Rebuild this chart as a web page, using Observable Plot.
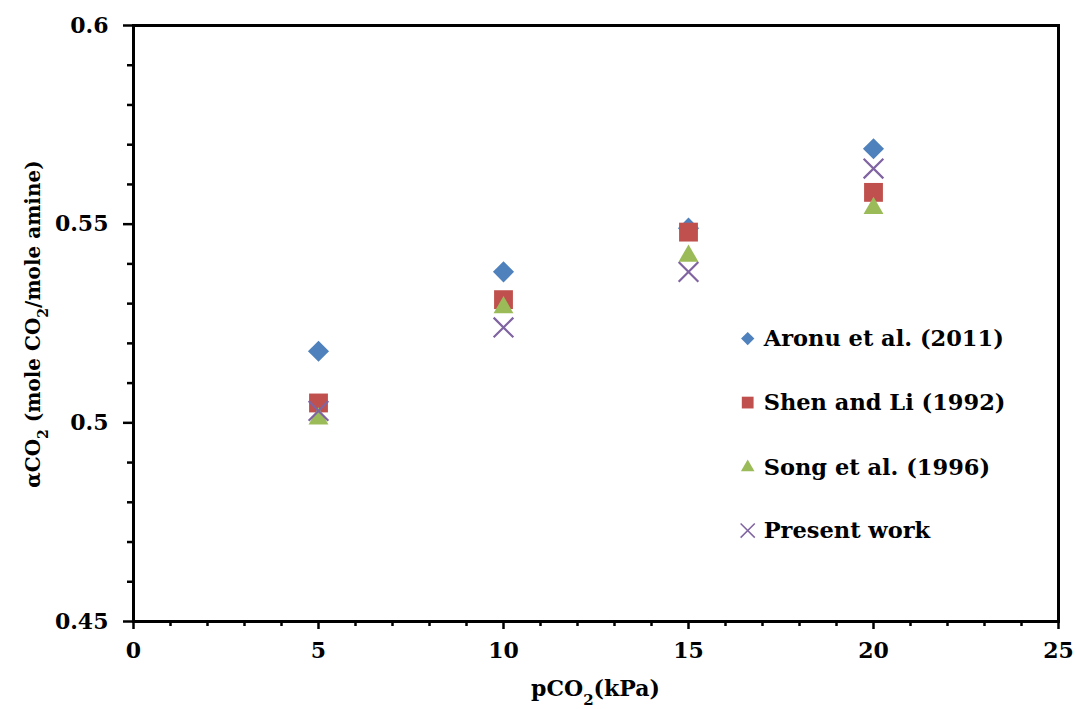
<!DOCTYPE html>
<html>
<head>
<meta charset="utf-8">
<script src="https://cdn.jsdelivr.net/npm/d3@7"></script>
<script src="https://cdn.jsdelivr.net/npm/@observablehq/plot@0.6"></script>
<style>
  body { margin: 0; background: #fff; }
</style>
</head>
<body>
<div id="chart"></div>
<script>
// ---- data ----
const pressures = [5, 10, 15, 20];
const aronu   = [0.518, 0.538, 0.549, 0.569];
const shenLi  = [0.505, 0.531, 0.548, 0.558];
const song    = [0.501, 0.529, 0.542, 0.554];
const present = [0.503, 0.524, 0.538, 0.564];
const seriesNames = ["Aronu et al. (2011)", "Shen and Li (1992)", "Song et al. (1996)", "Present work"];
const seriesValues = [aronu, shenLi, song, present];

const xMajorTicks = [0, 5, 10, 15, 20, 25];
const xMinorTicks = [1, 2, 3, 4, 6, 7, 8, 9, 11, 12, 13, 14, 16, 17, 18, 19, 21, 22, 23, 24];
const yMajorTicks = [0.45, 0.5, 0.55, 0.6];
const yTickLabels = ["0.45", "0.5", "0.55", "0.6"];
const yMinorTicks = [0.46, 0.47, 0.48, 0.49, 0.51, 0.52, 0.53, 0.54, 0.56, 0.57, 0.58, 0.59];

// ---- styles ----
const styles = [
  {symbol: "diamond2", color: "#4F81BD", r: 9.5, lr: 6,   filled: true},
  {symbol: "square2",  color: "#C0504D", r: 12,  lr: 7.5, filled: true},
  {symbol: "triangle2",color: "#9BBB59", r: 9.5, lr: 6.5, filled: true},
  {symbol: "times",    color: "#8064A2", r: 9,   lr: 6.5, filled: false}
];
const legendX = 16.6;
const legendY = [0.5212, 0.5051, 0.4888, 0.4729];
const FONT = "'DejaVu Serif', 'Liberation Serif', serif";

const rows = seriesValues.map(vals => pressures.map((p, i) => ({x: p, y: vals[i]})));
const legendRows = seriesNames.map((name, i) => ({name, i, x: legendX, y: legendY[i]}));

const marks = [
  Plot.axisX({ticks: xMinorTicks, tickSize: 5, strokeWidth: 2.5, fill: "none", label: null}),
  Plot.axisX({ticks: xMajorTicks, tickSize: 8, strokeWidth: 2.5, tickPadding: 13,
              fontSize: 22, fontWeight: "bold", fontFamily: FONT,
              tickFormat: d => String(d), label: null}),
  Plot.axisY({ticks: yMinorTicks, tickSize: 6, strokeWidth: 2.5, fill: "none", label: null}),
  Plot.axisY({ticks: yMajorTicks, tickSize: 10, strokeWidth: 2.5, tickPadding: 15,
              fontSize: 22, fontWeight: "bold", fontFamily: FONT,
              tickFormat: d => yTickLabels[yMajorTicks.indexOf(d)], label: null}),
  Plot.frame({strokeWidth: 3, stroke: "black"})
];

styles.forEach((s, k) => {
  marks.push(Plot.dot(rows[k], {
    x: "x", y: "y", symbol: s.symbol, r: s.r,
    fill: s.filled ? s.color : "none",
    stroke: s.filled ? null : s.color,
    strokeWidth: s.filled ? null : 2.2
  }));
  marks.push(Plot.dot(legendRows.filter(d => d.i === k), {
    x: "x", y: "y", symbol: s.symbol, r: s.lr,
    fill: s.filled ? s.color : "none",
    stroke: s.filled ? null : s.color,
    strokeWidth: s.filled ? null : 1.5
  }));
});
marks.push(Plot.text(legendRows, {
  x: "x", y: "y", text: "name", dx: 16, textAnchor: "start",
  fontSize: 22.5, fontWeight: "bold", fontFamily: FONT, fill: "black"
}));

const svg = Plot.plot({
  width: 1076,
  height: 709,
  marginLeft: 133,
  marginRight: 18,
  marginTop: 25,
  marginBottom: 88,
  style: `font-family: ${FONT}; font-size: 22px; font-weight: bold; background: white; color: black; overflow: visible;`,
  x: {domain: [0, 25]},
  y: {domain: [0.45, 0.6]},
  marks
});

// axis titles with subscripts
const s = d3.select(svg);
const xt = s.append("text")
  .attr("x", (133 + 1058) / 2).attr("y", 696)
  .attr("text-anchor", "middle")
  .style("font-family", FONT).style("font-size", "22px").style("font-weight", "bold").attr("fill", "black");
xt.append("tspan").text("pCO");
xt.append("tspan").attr("baseline-shift", "sub").attr("font-size", "15px").text("2");
xt.append("tspan").text("(kPa)");

const yt = s.append("text")
  .attr("transform", "translate(40,324) rotate(-90)")
  .attr("text-anchor", "middle")
  .style("font-family", FONT).style("font-size", "20px").style("font-weight", "bold").attr("fill", "black");
yt.append("tspan").text("αCO");
yt.append("tspan").attr("baseline-shift", "sub").attr("font-size", "14px").text("2");
yt.append("tspan").text(" (mole CO");
yt.append("tspan").attr("baseline-shift", "sub").attr("font-size", "14px").text("2");
yt.append("tspan").text("/mole amine)");

document.getElementById("chart").appendChild(svg);
</script>
</body>
</html>
